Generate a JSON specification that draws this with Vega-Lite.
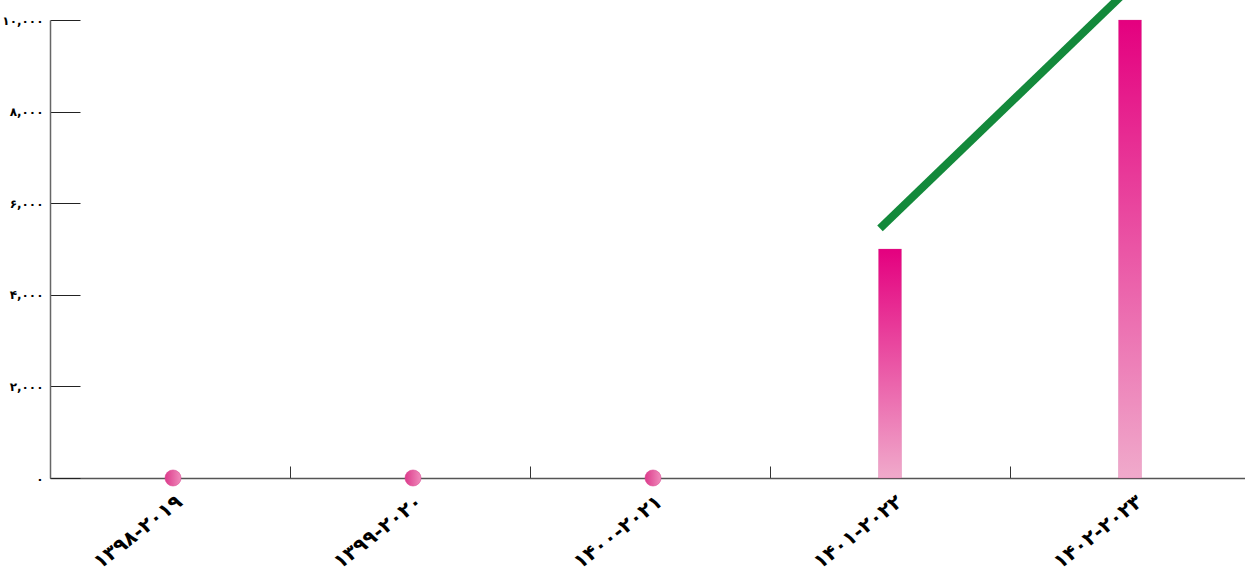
{
  "$schema": "https://vega.github.io/schema/vega-lite/v6.json",
  "width": 1200,
  "height": 458,
  "autosize": "none",
  "padding": {"left": 50, "top": 20, "right": 0, "bottom": 100},
  "background": "white",
  "config": {"view": {"stroke": null}},
  "datasets": {
    "main": [
      {"year": "۱۳۹۸-۲۰۱۹", "value": 0},
      {"year": "۱۳۹۹-۲۰۲۰", "value": 0},
      {"year": "۱۴۰۰-۲۰۲۱", "value": 0},
      {"year": "۱۴۰۱-۲۰۲۲", "value": 5000},
      {"year": "۱۴۰۲-۲۰۲۳", "value": 10000}
    ],
    "trend": [
      {"year": "۱۴۰۱-۲۰۲۲", "trend": 5450},
      {"year": "۱۴۰۲-۲۰۲۳", "trend": 10500}
    ]
  },
  "encoding": {
    "x": {
      "field": "year",
      "type": "nominal",
      "sort": ["۱۳۹۸-۲۰۱۹", "۱۳۹۹-۲۰۲۰", "۱۴۰۰-۲۰۲۱", "۱۴۰۱-۲۰۲۲", "۱۴۰۲-۲۰۲۳"],
      "scale": {"type": "band", "paddingInner": 0, "paddingOuter": 0},
      "axis": {
        "title": null,
        "bandPosition": 0,
        "labelAngle": -38,
        "labelAlign": "right",
        "labelBaseline": "middle",
        "labelOffset": 10,
        "labelFont": "DejaVu Sans",
        "labelFontWeight": "bold",
        "labelFontSize": 20,
        "labelColor": "#000000",
        "labelPadding": 33,
        "tickSize": -12,
        "tickColor": "#333333",
        "domainColor": "#555555",
        "domainWidth": 1.5,
        "grid": false
      }
    }
  },
  "layer": [
    {
      "data": {"name": "main"},
      "transform": [{"filter": "datum.value > 0"}],
      "mark": {
        "type": "bar",
        "size": 23,
        "stroke": "#d04a90",
        "strokeWidth": 0.5,
        "strokeOpacity": 0.5,
        "color": {
          "gradient": "linear",
          "x1": 0, "y1": 0, "x2": 0, "y2": 1,
          "stops": [
            {"offset": 0, "color": "#e4007f"},
            {"offset": 1, "color": "#f0aacb"}
          ]
        }
      },
      "encoding": {
        "y": {
          "field": "value",
          "type": "quantitative",
          "scale": {"domain": [0, 10000], "nice": false},
          "axis": {
            "title": null,
            "values": [0, 2000, 4000, 6000, 8000, 10000],
            "labelExpr": "replace(replace(replace(replace(replace(replace(replace(replace(replace(replace(format(datum.value, ','), /0/g, '۰'), /1/g, '۱'), /2/g, '۲'), /3/g, '۳'), /4/g, '۴'), /5/g, '۵'), /6/g, '۶'), /7/g, '۷'), /8/g, '۸'), /9/g, '۹')",
            "labelFont": "DejaVu Sans",
            "labelFontWeight": "bold",
            "labelFontSize": 12,
            "labelColor": "#000000",
            "labelPadding": 37,
            "tickSize": -30,
            "tickColor": "#222222",
            "domainColor": "#666666",
            "domainWidth": 1.5,
            "grid": false
          }
        }
      }
    },
    {
      "data": {"name": "main"},
      "transform": [{"filter": "datum.value == 0"}],
      "mark": {
        "type": "point",
        "shape": "circle",
        "filled": true,
        "size": 260,
        "opacity": 1,
        "xOffset": 3,
        "stroke": "#d8408c",
        "strokeWidth": 0.5,
        "fill": {
          "gradient": "linear",
          "x1": 0, "y1": 0.5, "x2": 1, "y2": 0.5,
          "stops": [
            {"offset": 0, "color": "#dc3a8b"},
            {"offset": 1, "color": "#f08cbc"}
          ]
        }
      },
      "encoding": {
        "y": {"field": "value", "type": "quantitative"}
      }
    },
    {
      "data": {"name": "trend"},
      "mark": {
        "type": "line",
        "color": "#13893b",
        "strokeWidth": 8,
        "strokeCap": "butt",
        "xOffset": -10,
        "clip": false
      },
      "encoding": {
        "y": {"field": "trend", "type": "quantitative"}
      }
    }
  ]
}
